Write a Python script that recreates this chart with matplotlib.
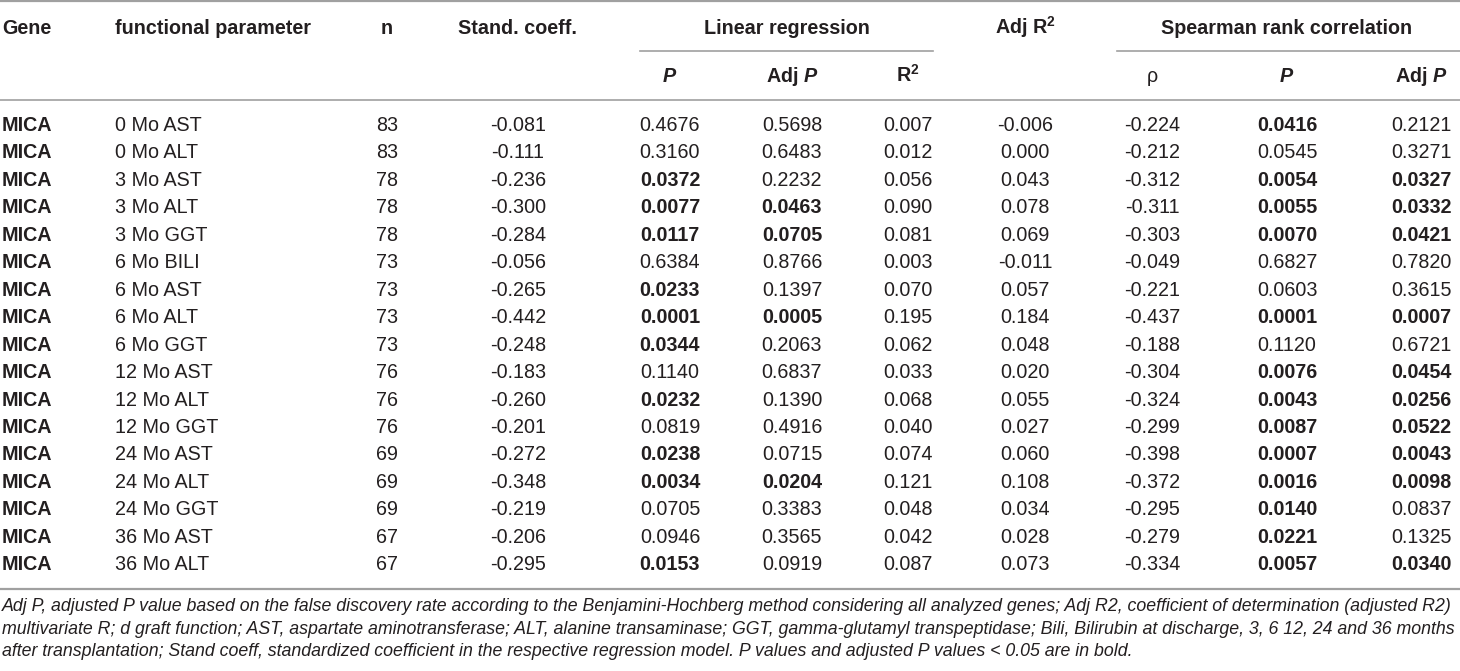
"""MICA expression vs graft function table"""
import matplotlib
matplotlib.use("Agg")
import matplotlib.pyplot as plt

plt.rcParams["font.family"] = ["Liberation Sans", "DejaVu Sans"]
plt.rcParams["mathtext.fontset"] = "custom"
plt.rcParams["mathtext.rm"] = "Liberation Sans"
plt.rcParams["mathtext.it"] = "Liberation Sans:italic"
plt.rcParams["mathtext.bf"] = "Liberation Sans:bold"
plt.rcParams["mathtext.bfit"] = "Liberation Sans:bold:italic"

# table data
gene = ["MICA"] * 17
param = ["0 Mo AST", "0 Mo ALT", "3 Mo AST", "3 Mo ALT", "3 Mo GGT", "6 Mo BILI",
         "6 Mo AST", "6 Mo ALT", "6 Mo GGT", "12 Mo AST", "12 Mo ALT", "12 Mo GGT",
         "24 Mo AST", "24 Mo ALT", "24 Mo GGT", "36 Mo AST", "36 Mo ALT"]
n = [83, 83, 78, 78, 78, 73, 73, 73, 73, 76, 76, 76, 69, 69, 69, 67, 67]
stand_coeff = [-0.081, -0.111, -0.236, -0.300, -0.284, -0.056, -0.265, -0.442, -0.248,
               -0.183, -0.260, -0.201, -0.272, -0.348, -0.219, -0.206, -0.295]
lin_p = [0.4676, 0.3160, 0.0372, 0.0077, 0.0117, 0.6384, 0.0233, 0.0001, 0.0344,
         0.1140, 0.0232, 0.0819, 0.0238, 0.0034, 0.0705, 0.0946, 0.0153]
lin_adj_p = [0.5698, 0.6483, 0.2232, 0.0463, 0.0705, 0.8766, 0.1397, 0.0005, 0.2063,
             0.6837, 0.1390, 0.4916, 0.0715, 0.0204, 0.3383, 0.3565, 0.0919]
r2 = [0.007, 0.012, 0.056, 0.090, 0.081, 0.003, 0.070, 0.195, 0.062,
      0.033, 0.068, 0.040, 0.074, 0.121, 0.048, 0.042, 0.087]
adj_r2 = [-0.006, 0.000, 0.043, 0.078, 0.069, -0.011, 0.057, 0.184, 0.048,
          0.020, 0.055, 0.027, 0.060, 0.108, 0.034, 0.028, 0.073]
rho = [-0.224, -0.212, -0.312, -0.311, -0.303, -0.049, -0.221, -0.437, -0.188,
       -0.304, -0.324, -0.299, -0.398, -0.372, -0.295, -0.279, -0.334]
sp_p = [0.0416, 0.0545, 0.0054, 0.0055, 0.0070, 0.6827, 0.0603, 0.0001, 0.1120,
        0.0076, 0.0043, 0.0087, 0.0007, 0.0016, 0.0140, 0.0221, 0.0057]
sp_adj_p = [0.2121, 0.3271, 0.0327, 0.0332, 0.0421, 0.7820, 0.3615, 0.0007, 0.6721,
            0.0454, 0.0256, 0.0522, 0.0043, 0.0098, 0.0837, 0.1325, 0.0340]

# which cells are printed in bold (as in the source)
bold_lin_p = [0, 0, 1, 1, 1, 0, 1, 1, 1, 0, 1, 0, 1, 1, 0, 0, 1]
bold_lin_adj_p = [0, 0, 0, 1, 1, 0, 0, 1, 0, 0, 0, 0, 0, 1, 0, 0, 0]
bold_sp_p = [1, 0, 1, 1, 1, 0, 0, 1, 0, 1, 1, 1, 1, 1, 1, 1, 1]
bold_sp_adj_p = [0, 0, 1, 1, 1, 0, 0, 1, 0, 1, 1, 1, 1, 1, 0, 0, 1]

footnote = [
    "Adj P, adjusted P value based on the false discovery rate according to the Benjamini-Hochberg method considering all analyzed genes; Adj R2, coefficient of determination (adjusted R2)",
    "multivariate R; d graft function; AST, aspartate aminotransferase; ALT, alanine transaminase; GGT, gamma-glutamyl transpeptidase; Bili, Bilirubin at discharge, 3, 6 12, 24 and 36 months",
    "after transplantation; Stand coeff, standardized coefficient in the respective regression model. P values and adjusted P values < 0.05 are in bold.",
]

W, H = 1460, 671
fig = plt.figure(figsize=(W / 100, H / 100), dpi=100)
ax = fig.add_axes([0, 0, 1, 1])
ax.set_xlim(0, W)
ax.set_ylim(H, 0)
ax.axis("off")

txt = "#231f20"
rule = "#a0a0a0"
fs = 14.2

# columns: (values, format, bold flags, x centre)
num_cols = [
    (n, "{:d}", None, 387),
    (stand_coeff, "{:.3f}", None, 518),
    (lin_p, "{:.4f}", bold_lin_p, 670),
    (lin_adj_p, "{:.4f}", bold_lin_adj_p, 792),
    (r2, "{:.3f}", None, 908),
    (adj_r2, "{:.3f}", None, 1025),
    (rho, "{:.3f}", None, 1152),
    (sp_p, "{:.4f}", bold_sp_p, 1287),
    (sp_adj_p, "{:.4f}", bold_sp_adj_p, 1421),
]

# rules
ax.plot([0, W], [1, 1], color=rule, lw=1.6)
ax.plot([640, 933], [51, 51], color=rule, lw=1.2)
ax.plot([1117, W], [51, 51], color=rule, lw=1.2)
ax.plot([0, W], [100, 100], color=rule, lw=1.2)
ax.plot([0, W], [589, 589], color=rule, lw=1.6)

# header
h1, h2 = 34, 82
hk = dict(fontsize=fs, fontweight="bold", color=txt, va="baseline")
ax.text(2, h1, "Gene", ha="left", **hk)
ax.text(115, h1, "functional parameter", ha="left", **hk)
ax.text(387, h1, "n", ha="center", **hk)
ax.text(518, h1, "Stand. coeff.", ha="center", **hk)
ax.text(787, h1, "Linear regression", ha="center", **hk)
ax.text(1025, h1, r"Adj R$^{\mathbf{2}}$", ha="center", **hk)
ax.text(1287, h1, "Spearman rank correlation", ha="center", **hk)
ax.text(670, h2, r"$\mathbfit{P}$", ha="center", **hk)
ax.text(792, h2, r"Adj $\mathbfit{P}$", ha="center", **hk)
ax.text(908, h2, r"R$^{\mathbf{2}}$", ha="center", **hk)
ax.text(1152, h2, "ρ", ha="center", fontsize=fs, color=txt, va="baseline")
ax.text(1287, h2, r"$\mathbfit{P}$", ha="center", **hk)
ax.text(1421, h2, r"Adj $\mathbfit{P}$", ha="center", **hk)

# body
y0, dy = 131, 27.45
for i in range(len(param)):
    y = y0 + i * dy
    ax.text(2, y, gene[i], ha="left", va="baseline", fontsize=fs,
            fontweight="bold", color=txt)
    ax.text(115, y, param[i], ha="left", va="baseline", fontsize=fs, color=txt)
    for vals, fmt, bold, xc in num_cols:
        w = "bold" if bold is not None and bold[i] else "normal"
        ax.text(xc, y, fmt.format(vals[i]), ha="center", va="baseline",
                fontsize=fs, fontweight=w, color=txt)

# footnote, shrunk to the printed line width
fig.canvas.draw()
renderer = fig.canvas.get_renderer()
foot_y = [611, 634, 656]
t0 = ax.text(2, foot_y[0], footnote[0], ha="left", va="baseline",
             fontsize=12.5, style="italic", color=txt)
wpx = t0.get_window_extent(renderer).width
ffs = 12.5 * 1453 / wpx
t0.set_fontsize(ffs)
for line, y in zip(footnote[1:], foot_y[1:]):
    ax.text(2, y, line, ha="left", va="baseline", fontsize=ffs,
            style="italic", color=txt)

fig.savefig("out.png", dpi=100)
